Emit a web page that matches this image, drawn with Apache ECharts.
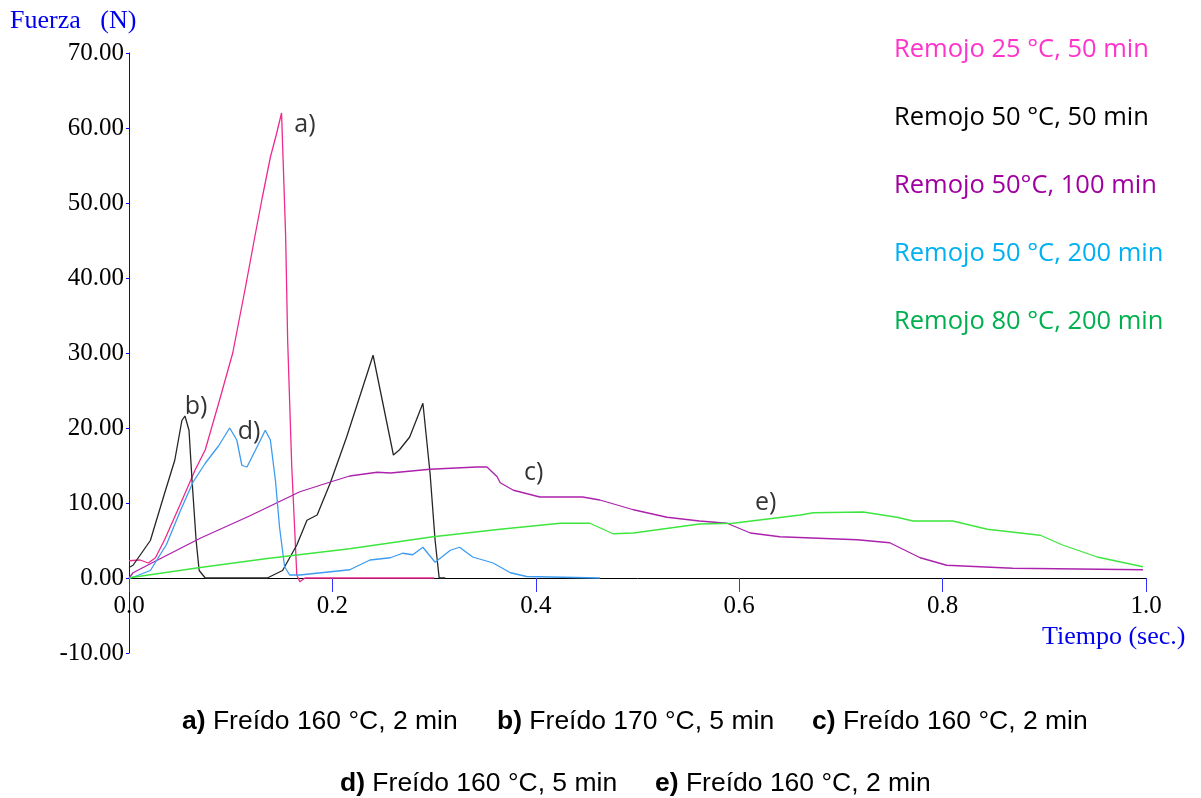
<!DOCTYPE html>
<html>
<head>
<meta charset="utf-8">
<script src="https://cdn.jsdelivr.net/npm/echarts@6/dist/echarts.min.js"></script>
<style>
  html, body { margin: 0; padding: 0; background: #fff; }
  #chart { width: 1201px; height: 798px; }
</style>
</head>
<body>
<div id="chart"></div>
<script>
// curvas fuerza (N) vs tiempo (s)
const seriesNames = [
  'Remojo 25 °C, 50 min',
  'Remojo 50 °C, 50 min',
  'Remojo 50°C, 100 min',
  'Remojo 50 °C, 200 min',
  'Remojo 80 °C, 200 min'
];

const aX = [0, 0.011, 0.019, 0.026, 0.035, 0.050, 0.065, 0.075, 0.089, 0.102, 0.114, 0.124, 0.131, 0.139, 0.145, 0.150, 0.154, 0.156, 0.160, 0.165, 0.168, 0.173, 0.300];
const aY = [2.3, 2.4, 2.0, 2.7, 5.1, 9.7, 14.4, 17.1, 23.7, 30.0, 38.4, 45.7, 50.7, 56.1, 59.2, 62.0, 45.7, 31.7, 15.0, 0.4, -0.5, 0, 0];

const bX = [0, 0.004, 0.021, 0.035, 0.045, 0.052, 0.055, 0.059, 0.062, 0.066, 0.069, 0.075, 0.136, 0.151, 0.165, 0.175, 0.185, 0.198, 0.214, 0.230, 0.240, 0.260, 0.266, 0.276, 0.289, 0.296, 0.301, 0.305, 0.311];
const bY = [1.4, 1.7, 5.0, 11.3, 15.7, 21.0, 21.6, 19.7, 13.0, 5.0, 1.0, 0, 0, 1.0, 4.4, 7.7, 8.4, 12.7, 18.8, 25.5, 29.7, 16.4, 17.1, 18.8, 23.3, 14.0, 5.0, 0, 0];

const cX = [0, 0.004, 0.021, 0.070, 0.119, 0.168, 0.198, 0.217, 0.244, 0.257, 0.296, 0.342, 0.352, 0.362, 0.365, 0.378, 0.404, 0.446, 0.463, 0.496, 0.529, 0.561, 0.588, 0.611, 0.640, 0.716, 0.748, 0.778, 0.804, 0.869, 0.997];
const cY = [0, 0.7, 1.9, 5.3, 8.3, 11.5, 12.8, 13.6, 14.1, 14.0, 14.5, 14.8, 14.8, 13.5, 12.7, 11.7, 10.8, 10.8, 10.4, 9.1, 8.1, 7.6, 7.3, 6.0, 5.5, 5.1, 4.7, 2.7, 1.7, 1.3, 1.1];

const dX = [0, 0.004, 0.021, 0.037, 0.050, 0.063, 0.075, 0.088, 0.099, 0.106, 0.111, 0.116, 0.126, 0.134, 0.139, 0.144, 0.148, 0.153, 0.158, 0.168, 0.217, 0.237, 0.257, 0.269, 0.279, 0.289, 0.301, 0.316, 0.325, 0.338, 0.358, 0.375, 0.391, 0.463];
const dY = [0, 0.1, 1.0, 4.5, 8.8, 12.8, 15.3, 17.6, 20.0, 18.4, 15.0, 14.8, 17.5, 19.7, 18.4, 13.0, 6.8, 1.5, 0.4, 0.4, 1.1, 2.4, 2.7, 3.3, 3.1, 4.1, 2.1, 3.7, 4.1, 2.8, 2.0, 0.7, 0.2, 0];

const eX = [0, 0.004, 0.070, 0.136, 0.217, 0.299, 0.365, 0.424, 0.453, 0.476, 0.496, 0.561, 0.594, 0.660, 0.673, 0.722, 0.755, 0.771, 0.810, 0.844, 0.896, 0.918, 0.952, 0.997];
const eY = [0, 0.1, 1.4, 2.6, 3.9, 5.5, 6.5, 7.3, 7.3, 5.9, 6.0, 7.2, 7.3, 8.4, 8.7, 8.8, 8.1, 7.6, 7.6, 6.5, 5.7, 4.4, 2.8, 1.5];

// etiquetas a) ... e) junto a cada curva
const annoText = ['a)', 'b)', 'c)', 'd)', 'e)'];
const annoX = [0.173, 0.066, 0.398, 0.118, 0.626];
const annoY = [60.4, 22.8, 14.0, 19.5, 10.0];

const captionRows = [
  [['a)', ' Freído 160 °C, 2 min'], ['b)', ' Freído 170 °C, 5 min'], ['c)', ' Freído 160 °C, 2 min']],
  [['d)', ' Freído 160 °C, 5 min'], ['e)', ' Freído 160 °C, 2 min']]
];

const lineColors = ['#ee2a8f', '#262626', '#ac22ac', '#3d9cf0', '#3de63d'];
const legendColors = ['#ff33cc', '#000000', '#a000a0', '#00b0f0', '#00b050'];

const zip = (xs, ys) => xs.map((x, i) => [x, ys[i]]);
const curves = [zip(aX, aY), zip(bX, bY), zip(cX, cY), zip(dX, dY), zip(eX, eY)];

const chart = echarts.init(document.getElementById('chart'));

const series = curves.map((data, i) => ({
  name: seriesNames[i],
  type: 'line',
  data: data,
  showSymbol: false,
  symbol: 'none',
  lineStyle: { color: lineColors[i], width: 1.3 },
  itemStyle: { color: lineColors[i] },
  z: 3
}));

series.push({
  name: 'etiquetas',
  type: 'scatter',
  data: annoX.map((x, i) => ({ value: [x, annoY[i]], label: { formatter: annoText[i] } })),
  symbolSize: 1,
  itemStyle: { color: 'rgba(0,0,0,0)' },
  label: {
    show: true,
    position: 'inside',
    color: '#000',
    fontFamily: 'Open Sans',
    fontSize: 25
  },
  z: 5
});

const captionGraphics = [];
const rowY = [722, 784];
const rowLeft = [182, 340];
captionRows.forEach((row, r) => {
  row.forEach((item, k) => {
    captionGraphics.push({
      type: 'text',
      left: rowLeft[r] + k * 315,
      top: rowY[r] - 14,
      style: {
        text: '{b|' + item[0] + '}' + item[1],
        font: '26.5px "Liberation Sans", Arial, sans-serif',
        fill: '#000',
        rich: {
          b: { font: 'bold 26.5px "Liberation Sans", Arial, sans-serif', fill: '#000' }
        }
      }
    });
  });
});

chart.setOption({
  animation: false,
  backgroundColor: '#fff',
  grid: { left: 129, right: 55, top: 53, bottom: 145 },
  legend: {
    orient: 'vertical',
    left: 884,
    top: 32,
    itemWidth: 0,
    itemHeight: 0,
    itemGap: 42,
    selectedMode: false,
    data: seriesNames.map((n, i) => ({
      name: n,
      icon: 'rect',
      textStyle: { color: legendColors[i] }
    })),
    textStyle: { fontFamily: 'Open Sans', fontSize: 25.5, lineHeight: 24 }
  },
  xAxis: {
    type: 'value',
    min: 0,
    max: 1,
    interval: 0.2,
    axisLine: { onZero: true, lineStyle: { color: '#000', width: 1 } },
    axisTick: { length: 14, lineStyle: { color: '#3333ff' } },
    splitLine: { show: false },
    axisLabel: {
      margin: -59,
      color: '#000',
      fontFamily: 'Liberation Serif',
      fontSize: 25,
      formatter: v => v.toFixed(1)
    }
  },
  yAxis: {
    type: 'value',
    min: -10,
    max: 70,
    interval: 10,
    axisLine: { show: true, onZero: false, lineStyle: { color: '#0000ff', width: 1 } },
    axisTick: { show: true, length: 3, lineStyle: { color: '#0000ff' } },
    splitLine: { show: false },
    axisLabel: {
      margin: 5,
      color: '#000',
      fontFamily: 'Liberation Serif',
      fontSize: 25,
      formatter: v => v.toFixed(2)
    }
  },
  graphic: [
    {
      type: 'text', left: 10, top: 8,
      style: { text: 'Fuerza   (N)', font: '26px "Liberation Serif", serif', fill: '#0000ee' }
    },
    {
      type: 'text', left: 1042, top: 624,
      style: { text: 'Tiempo (sec.)', font: '26px "Liberation Serif", serif', fill: '#0000ee' }
    }
  ].concat(captionGraphics),
  series: series
});
</script>
</body>
</html>
